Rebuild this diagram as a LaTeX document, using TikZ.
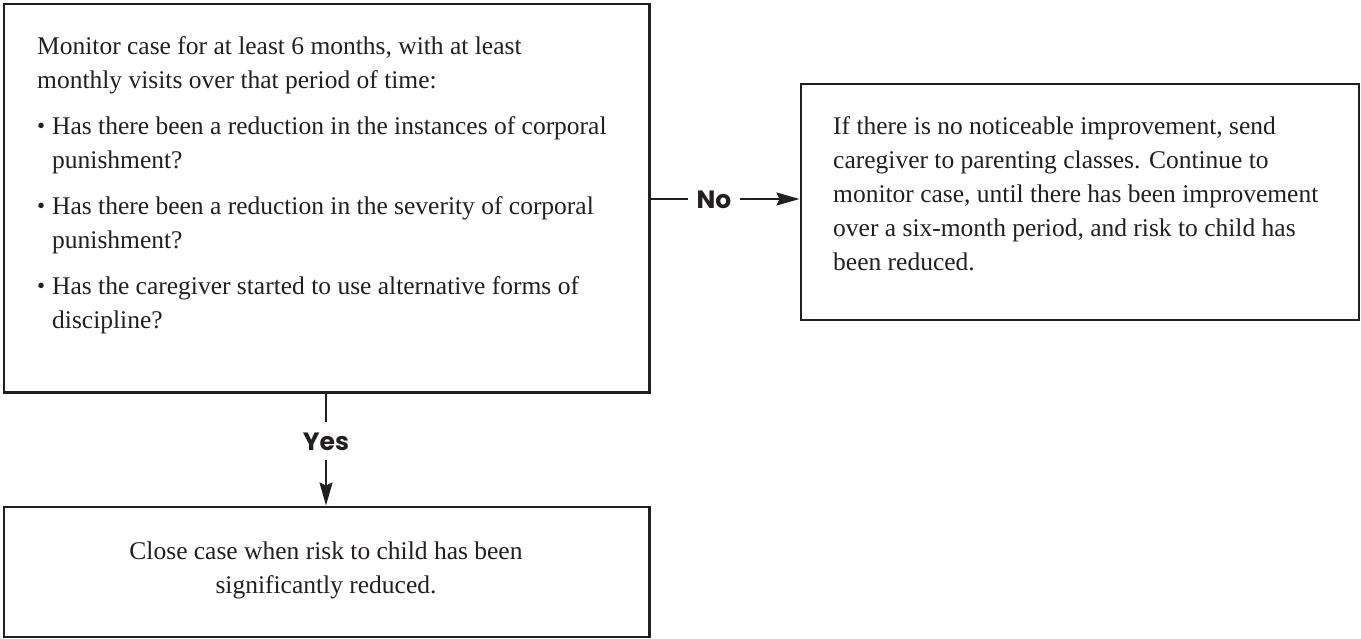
\documentclass[tikz,border=0pt]{standalone}
\usepackage{fontspec}
\setmainfont{Liberation Serif}
\newfontfamily\labelfont{Poppins}
\usetikzlibrary{arrows.meta}
\definecolor{ink}{HTML}{231F20}
% bullet with a hanging indent for the question list
\newcommand{\itemdot}{\makebox[15pt][l]{\raisebox{0.5pt}{\fontsize{23}{23}\selectfont\textbullet}}}
\newcommand{\hangpad}{\hspace*{15pt}}
\begin{document}
\begin{tikzpicture}[x=1pt,y=-1pt,
  panel/.style={draw=ink, line width=2.8pt, inner sep=0pt, anchor=north west},
  body/.style={inner sep=0pt, anchor=base west, text=ink, font=\fontsize{25.5}{34}\selectfont},
  answer/.style={inner xsep=8.5pt, inner ysep=10pt, text height=18pt, text depth=0pt,
    text=ink, font=\labelfont\bfseries\fontsize{25}{30}\selectfont},
  link/.style={draw=ink, line width=1.8pt},
  tip/.style={-{Stealth[length=23pt,width=13pt,inset=3pt]}}
]
\useasboundingbox (0,0) rectangle (1361,638);

% boxes
\node[panel, minimum width=645.5pt, minimum height=388.5pt] (monitor) at (2.5,2.5) {};
\node[panel, minimum width=558pt, minimum height=236pt] (referral) at (799.5,82.5) {};
\node[panel, minimum width=645.5pt, minimum height=130pt] (closecase) at (2.5,505.5) {};

% box texts
\node[body] (monitortext) at (37,54) {\parbox[t]{600pt}{\raggedright
Monitor case for at least 6 months, with at least\\
monthly visits over that period of time:\\[12pt]
\itemdot Has there been a reduction in the instances of corporal\\
\hangpad punishment?\\[12pt]
\itemdot Has there been a reduction in the severity of corporal\\
\hangpad punishment?\\[12pt]
\itemdot Has the caregiver started to use alternative forms of\\
\hangpad discipline?}};

\node[body] (referraltext) at (833,134) {\parbox[t]{520pt}{\raggedright
If there is no noticeable improvement, send\\
caregiver to parenting classes. Continue to\\
monitor case, until there has been improvement\\
over a six-month period, and risk to child has\\
been reduced.}};

\node[body, anchor=base] (closetext) at (326,559) {\parbox[t]{600pt}{\centering
Close case when risk to child has been\\
significantly reduced.}};

% answer labels
\node[answer] (no) at (714,199) {No};
\node[answer] (yes) at (326,441) {Yes};

% connectors
\draw[link] (monitor.east |- no.center) -- (no.west);
\draw[link,tip] (no.east) -- (referral.west |- no.center);
\draw[link] (yes.center |- monitor.south) -- (yes.north);
\draw[link,tip] (yes.south) -- (yes.center |- closecase.north);
\end{tikzpicture}
\end{document}
